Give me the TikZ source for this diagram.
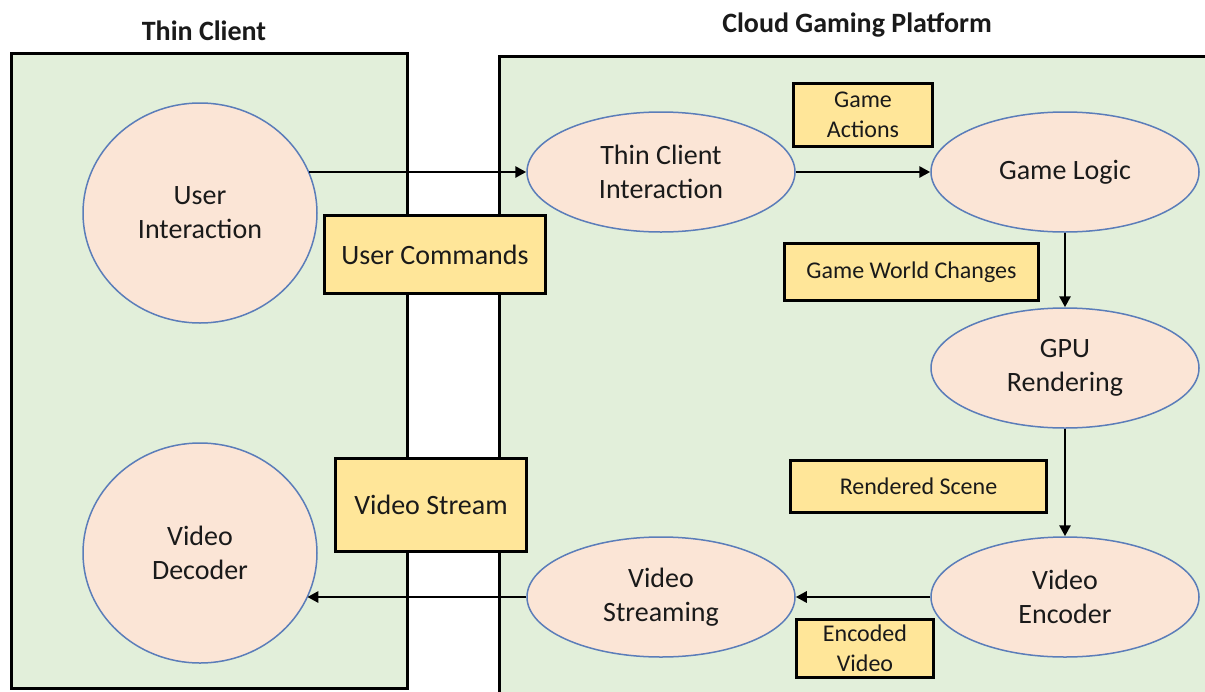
\documentclass[tikz,border=0pt]{standalone}
\usepackage{fontspec}
\setmainfont{Carlito}
\usetikzlibrary{shapes.geometric,arrows.meta}

\definecolor{panelgreen}{HTML}{E2EFDA}
\definecolor{ellfill}{HTML}{FBE5D6}
\definecolor{ellline}{HTML}{5B7DB9}
\definecolor{labelfill}{HTML}{FFE699}
\definecolor{txt}{HTML}{1A1A1A}

\tikzset{
  panel/.style={draw=black, line width=3pt, fill=panelgreen},
  heading/.style={font=\fontsize{28}{34}\selectfont\bfseries, text=txt, inner sep=0pt},
  proc/.style={ellipse, draw=ellline, line width=1.5pt, fill=ellfill,
    minimum width=268pt, minimum height=120pt, inner sep=0pt,
    align=center, text=txt, font=\fontsize{28}{34}\selectfont},
  endpoint/.style={proc, minimum width=234pt, minimum height=220pt},
  tag/.style={rectangle, draw=black, line width=3pt, fill=labelfill,
    inner sep=0pt, align=center, text=txt},
  bigtag/.style={tag, font=\fontsize{28}{34}\selectfont},
  smalltag/.style={tag, font=\fontsize{24}{30}\selectfont},
  flow/.style={-{Triangle[length=11pt,width=11pt]}, line width=2.8pt, draw=black}
}

\begin{document}
\begin{tikzpicture}[x=1pt,y=-1pt]
  \useasboundingbox (0,0) rectangle (1205,691);
  \clip (0,0) rectangle (1205,691);
  \fill[white] (0,0) rectangle (1205,691);

  % the two sides
  \draw[panel] (11,53) rectangle (407,688);
  \draw[panel] (499.5,56) rectangle (1220,710);

  \node[heading] (hclient) at (204,31) {Thin Client};
  \node[heading] (hcloud) at (857,25) {Cloud Gaming Platform};

  % client side
  \node[endpoint] (ui) at (200,213) {User\\Interaction};
  \node[endpoint] (vd) at (200,553) {Video\\Decoder};

  % platform side
  \node[proc] (tci) at (661,172) {Thin Client\\Interaction};
  \node[proc] (gl)  at (1065,172) {Game Logic};
  \node[proc] (gpu) at (1065,368) {GPU\\Rendering};
  \node[proc] (ve)  at (1065,597) {Video\\Encoder};
  \node[proc] (vs)  at (661,597) {Video\\Streaming};

  % data flow
  \draw[flow] (ui.21 |- tci.west) -- (tci.west);
  \draw[flow] (tci.east) -- (gl.west);
  \draw[flow] (gl.south) -- (gpu.north);
  \draw[flow] (gpu.south) -- (ve.north);
  \draw[flow] (ve.west) -- (vs.east);
  \draw[flow] (vs.west) -- (vd.-23 |- vs.west);

  % data labels
  \node[bigtag, minimum width=221pt, minimum height=78pt] (cmd) at (435,254.5) {User Commands};
  \node[bigtag, minimum width=191pt, minimum height=93pt] (stream) at (431,505) {Video Stream};
  \node[smalltag, minimum width=139pt, minimum height=63pt] (act) at (863,115) {Game\\Actions};
  \node[smalltag, minimum width=254pt, minimum height=57pt] (world) at (911.5,272) {Game World Changes};
  \node[smalltag, minimum width=256pt, minimum height=52pt] (scene) at (918.5,486.5) {Rendered Scene};
  \node[smalltag, minimum width=137pt, minimum height=58pt] (enc) at (865,648.5) {Encoded\\Video};
\end{tikzpicture}
\end{document}
